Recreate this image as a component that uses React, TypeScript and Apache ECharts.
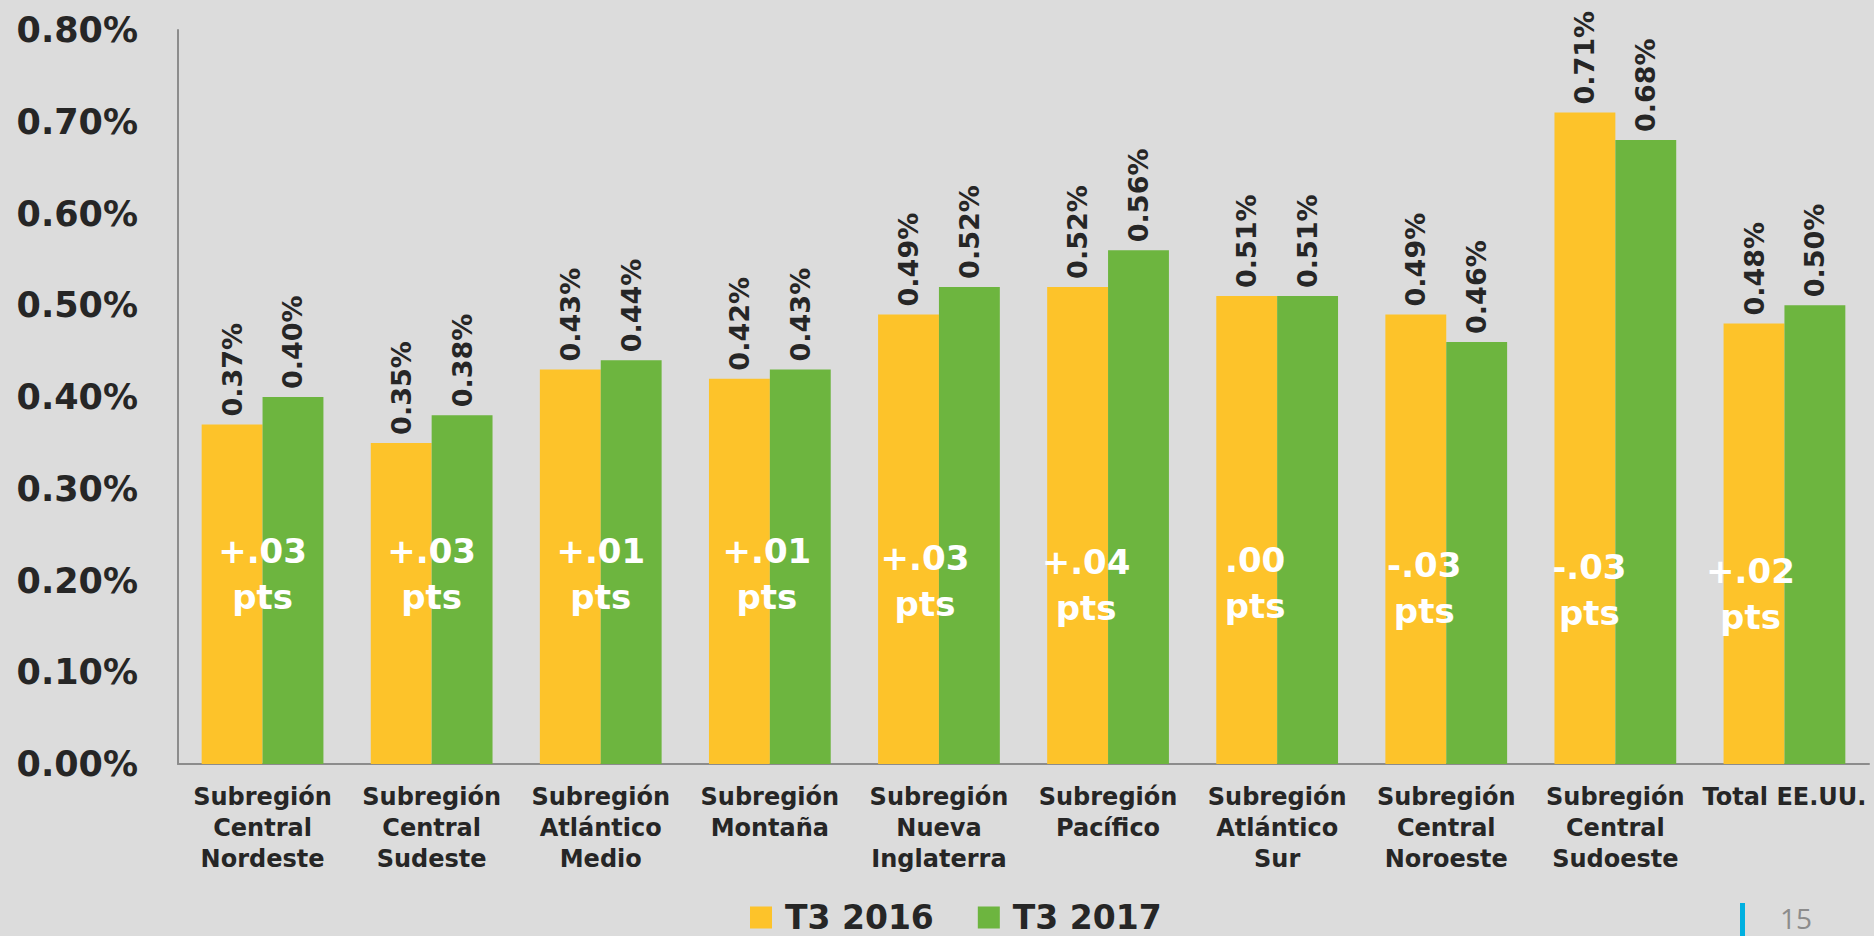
import React, { useEffect, useRef } from "react";
import * as echarts from "echarts";

const categories = [
  "Subregión\nCentral\nNordeste",
  "Subregión\nCentral\nSudeste",
  "Subregión\nAtlántico\nMedio",
  "Subregión\nMontaña",
  "Subregión\nNueva\nInglaterra",
  "Subregión\nPacífico",
  "Subregión\nAtlántico\nSur",
  "Subregión\nCentral\nNoroeste",
  "Subregión\nCentral\nSudoeste",
  "Total EE.UU.",
];
const t3_2016 = [0.37, 0.35, 0.43, 0.42, 0.49, 0.52, 0.51, 0.49, 0.71, 0.48];
const t3_2017 = [0.40, 0.38, 0.44, 0.43, 0.52, 0.56, 0.51, 0.46, 0.68, 0.50];
const changeLabels = ["+.03", "+.03", "+.01", "+.01", "+.03", "+.04", ".00", "-.03", "-.03", "+.02"];
const yTicks = [0, 0.1, 0.2, 0.3, 0.4, 0.5, 0.6, 0.7, 0.8];

// layout of the change annotations (value height on the axis, horizontal shift in px)
const changeLabelHeight = [0.207, 0.207, 0.207, 0.207, 0.2, 0.195, 0.197, 0.192, 0.19, 0.185];
const changeLabelShift = [0, 0, 0, -3, -14, -22, -22, -22, -26, -34];

const FONT = "'DejaVu Sans', sans-serif";
const DARK = "#262626";

export default function App() {
  const ref = useRef<HTMLDivElement>(null);
  useEffect(() => {
    if (!ref.current) return;
    const chart = echarts.init(ref.current, null, { renderer: "svg" });
    const barLabel = {
      show: true,
      position: "top",
      rotate: 90,
      align: "left",
      verticalAlign: "middle",
      distance: 8,
      color: DARK,
      fontFamily: FONT,
      fontWeight: "bold",
      fontSize: 27,
      formatter: (p: any) => p.value.toFixed(2) + "%",
    };
    chart.setOption({
      animation: false,
      backgroundColor: "#dcdcdc",
      textStyle: { fontFamily: FONT },
      grid: { left: 178, right: 5, top: 30, bottom: 172, containLabel: false },
      legend: {
        data: ["T3 2016", "T3 2017"],
        bottom: 0,
        left: 745,
        padding: [2, 5, 2, 5],
        itemWidth: 22,
        itemHeight: 22,
        itemGap: 44,
        icon: "rect",
        textStyle: {
          fontFamily: FONT,
          fontWeight: "bold",
          fontSize: 33,
          color: DARK,
          padding: [0, 0, 0, 8],
        },
      },
      xAxis: {
        type: "category",
        data: categories,
        axisLine: { lineStyle: { color: "#8c8c8c", width: 2 } },
        axisTick: { show: false },
        axisLabel: {
          interval: 0,
          color: DARK,
          fontFamily: FONT,
          fontWeight: "bold",
          fontSize: 24,
          lineHeight: 31,
          margin: 17,
          align: "center",
        },
      },
      yAxis: {
        type: "value",
        min: 0,
        max: 0.8,
        interval: 0.1,
        axisLine: { show: true, lineStyle: { color: "#8c8c8c", width: 2 } },
        axisTick: { show: false },
        splitLine: { show: false },
        axisLabel: {
          color: DARK,
          fontFamily: FONT,
          fontWeight: "bold",
          fontSize: 35,
          margin: 40,
          formatter: (v: number) => {
            const t = yTicks.find((x) => Math.abs(x - v) < 1e-9);
            return (t !== undefined ? t : v).toFixed(2) + "%";
          },
        },
      },
      series: [
        {
          name: "T3 2016",
          type: "bar",
          data: t3_2016,
          barGap: "0%",
          barCategoryGap: "28%",
          itemStyle: { color: "#fdc32a" },
          label: barLabel,
        },
        {
          name: "T3 2017",
          type: "bar",
          data: t3_2017,
          itemStyle: { color: "#6db53f" },
          label: barLabel,
        },
        {
          name: "cambio",
          type: "scatter",
          symbolSize: 0,
          silent: true,
          z: 10,
          itemStyle: { opacity: 1 },
          data: changeLabels.map((t, i) => ({
            value: [i, changeLabelHeight[i]],
            label: {
              show: true,
              position: "inside",
              offset: [changeLabelShift[i], 0],
              formatter: t + "\npts",
            },
          })),
          label: {
            show: true,
            color: "#ffffff",
            fontFamily: FONT,
            fontWeight: "bold",
            fontSize: 34,
            lineHeight: 46,
            align: "center",
            verticalAlign: "middle",
          },
        },
      ],
      graphic: [
        { type: "rect", left: 1740, top: 903, shape: { width: 5, height: 40 }, style: { fill: "#00b0e0" } },
        {
          type: "text",
          left: 1780,
          top: 904,
          style: { text: "15", fill: "#8c8c8c", font: "28px 'Open Sans', sans-serif" },
        },
      ],
    });
    return () => chart.dispose();
  }, []);
  return (
    <div
      ref={ref}
      style={{ position: "fixed", left: 0, top: 0, width: 1874, height: 936 }}
    />
  );
}
